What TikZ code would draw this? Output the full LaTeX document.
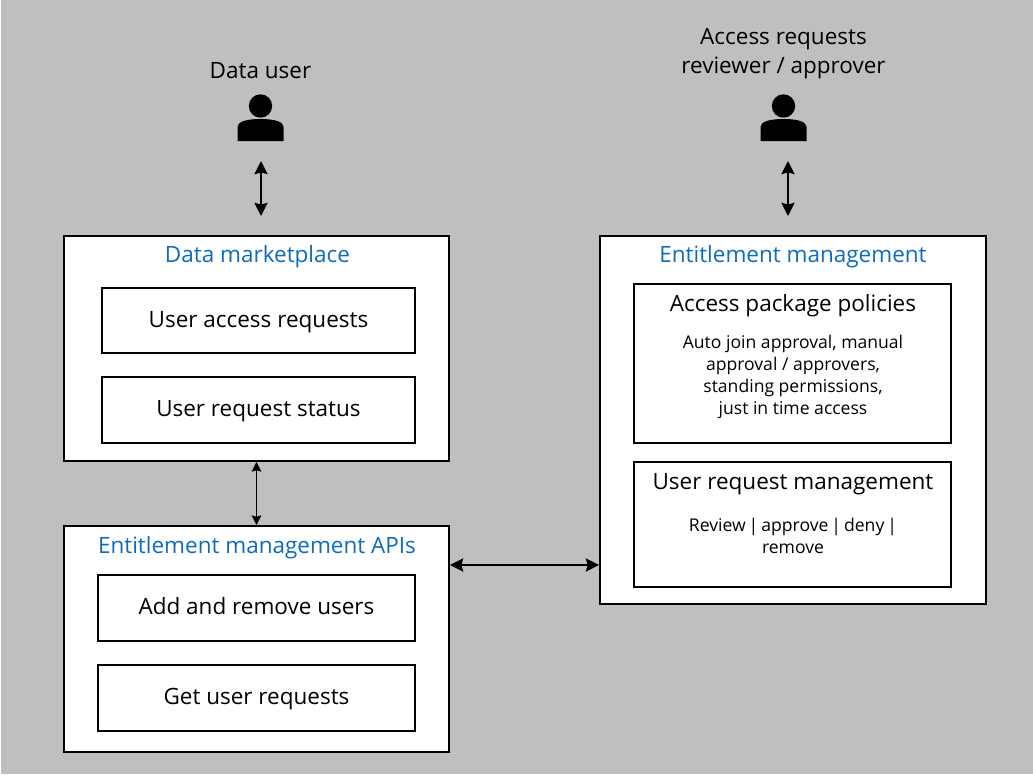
\documentclass[tikz,border=0pt]{standalone}
\usepackage{fontspec}
\setmainfont{Open Sans}
\usetikzlibrary{arrows.meta}
\definecolor{panelgray}{HTML}{BFBFBF}
\definecolor{titleblue}{HTML}{0F6CBD}
\tikzset{outerbox/.style={draw=black,line width=1.1pt,fill=white,inner sep=0pt}}
\tikzset{innerbox/.style={draw=black,line width=1.1pt,fill=white,inner sep=0pt,text height=9.5pt,text depth=1.8pt,font=\fontsize{12.8}{16}\selectfont}}
\tikzset{titletext/.style={text=titleblue,font=\fontsize{12.8}{16}\selectfont}}
\tikzset{headtext/.style={font=\fontsize{12.8}{16}\selectfont}}
\tikzset{bodytext/.style={align=center,font=\fontsize{10}{12.5}\selectfont}}
\tikzset{personlabel/.style={align=center,font=\fontsize{12.8}{16.5}\selectfont}}
\tikzset{link/.style={{Stealth[length=7.5pt,width=7.5pt,inset=1pt]}-{Stealth[length=7.5pt,width=7.5pt,inset=1pt]},line width=1.15pt}}
\tikzset{thinlink/.style={{Stealth[length=5.5pt,width=5.5pt,inset=0.8pt]}-{Stealth[length=5.5pt,width=5.5pt,inset=0.8pt]},line width=0.8pt}}
\newcommand{\personicon}[2]{%
  \fill (#1,#2) circle (0.234);
  \fill ({#1-0.46},{#2+0.7}) -- ({#1-0.46},{#2+0.42}) .. controls ({#1-0.46},{#2+0.32}) and ({#1-0.3},{#2+0.26}) .. ({#1},{#2+0.26})
    .. controls ({#1+0.3},{#2+0.26}) and ({#1+0.46},{#2+0.32}) .. ({#1+0.46},{#2+0.42}) -- ({#1+0.46},{#2+0.7}) -- cycle;}
\begin{document}
\begin{tikzpicture}[x=1cm,y=-1cm]
  \useasboundingbox (0,0) rectangle (20.66,15.5);
  \fill [panelgray] (0.02,0) rectangle (20.66,15.47);
  % people
  \node [personlabel] (datauser) at (5.21,1.42) {Data user};
  \node [personlabel] (approver) at (15.67,1.08) {Access requests\\reviewer / approver};
  \personicon{5.21}{2.12}
  \personicon{15.67}{2.12}
  % left column
  \node [outerbox,minimum width=7.7cm,minimum height=4.5cm] (market) at (5.13,6.97) {};
  \node [titletext] (markettitle) at (5.15,5.14) {Data marketplace};
  \node [innerbox,minimum width=6.26cm,minimum height=1.3cm] (accessreq) at (5.17,6.41) {User access requests};
  \node [innerbox,minimum width=6.26cm,minimum height=1.32cm] (reqstatus) at (5.17,8.2) {User request status};
  \node [outerbox,minimum width=7.7cm,minimum height=4.52cm] (apis) at (5.13,12.78) {};
  \node [titletext] (apistitle) at (5.14,10.95) {Entitlement management APIs};
  \node [innerbox,minimum width=6.34cm,minimum height=1.32cm] (addremove) at (5.13,12.16) {Add and remove users};
  \node [innerbox,minimum width=6.34cm,minimum height=1.32cm] (getreq) at (5.13,13.96) {Get user requests};
  % right column
  \node [outerbox,minimum width=7.72cm,minimum height=7.36cm] (entitle) at (15.86,8.4) {};
  \node [titletext] (entitletitle) at (15.86,5.14) {Entitlement management};
  \node [outerbox,minimum width=6.34cm,minimum height=3.18cm] (policies) at (15.85,7.27) {};
  \node [headtext] (policyhead) at (15.86,6.12) {Access package policies};
  \node [bodytext] (policybody) at (15.86,7.53) {Auto join approval, manual\\approval / approvers,\\standing permissions,\\just in time access};
  \node [outerbox,minimum width=6.34cm,minimum height=2.5cm] (reqmanage) at (15.85,10.49) {};
  \node [headtext] (managehead) at (15.86,9.68) {User request management};
  \node [bodytext] (managebody) at (15.86,10.72) {\spaceskip=1.7pt Review | approve | deny |\\remove};
  % links
  \coordinate (usertop) at (5.22,3.22);
  \coordinate (userbot) at (5.22,4.32);
  \coordinate (apprtop) at (15.76,3.22);
  \coordinate (apprbot) at (15.76,4.32);
  \coordinate (crosslink) at (10.5,11.3);
  \draw [link] (usertop) -- (userbot);
  \draw [link] (apprtop) -- (apprbot);
  \draw [thinlink] (market) -- (apis);
  \draw [link] (apis.east |- crosslink) -- (entitle.west |- crosslink);
\end{tikzpicture}
\end{document}
